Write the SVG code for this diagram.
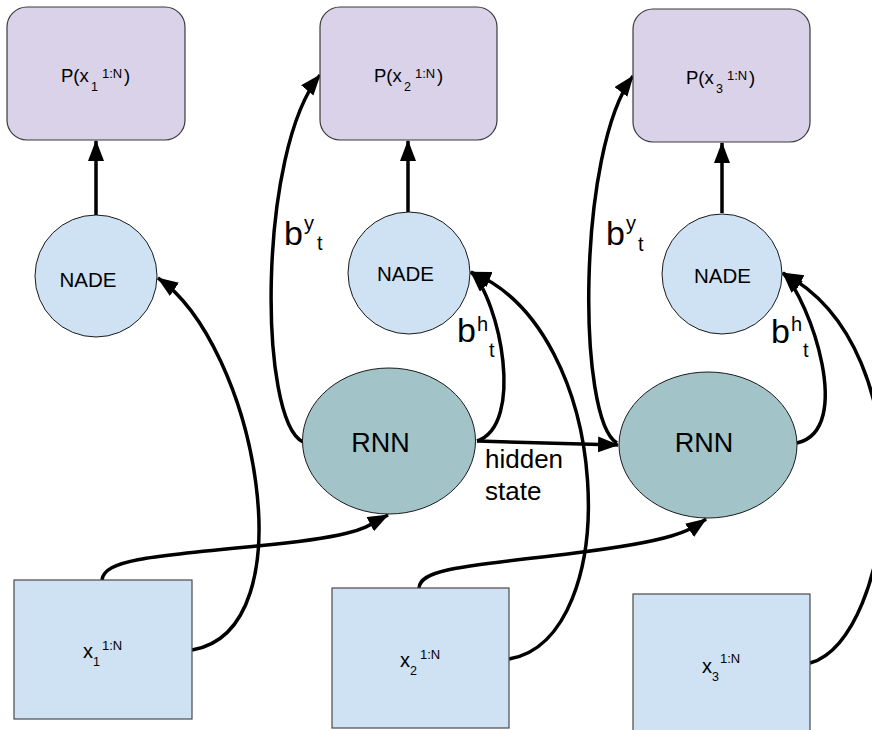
<svg xmlns="http://www.w3.org/2000/svg" width="872" height="730" viewBox="0 0 872 730">
  <style>
    .prob { fill: #d9d2e9; stroke: #3a3a3a; stroke-width: 1.2; }
    .input { fill: #cfe2f3; stroke: #4a4a4a; stroke-width: 1.2; }
    .nade { fill: #cfe2f3; stroke: #1a1a1a; stroke-width: 1; }
    .rnn { fill: #a2c4c9; stroke: #1a1a1a; stroke-width: 1; }
    text { font-family: "Liberation Sans", Arial, sans-serif; fill: #000; }
    .edge { fill: none; stroke: #000; stroke-width: 3.5; }
    .arrow { marker-end: url(#head); }
  </style>
  <defs>
    <marker id="head" markerUnits="userSpaceOnUse" markerWidth="24" markerHeight="18" refX="20" refY="8" orient="auto">
      <path d="M0,0 L21,8 L0,16 z" fill="#000"/>
    </marker>
  </defs>

  <rect width="872" height="730" fill="#fff"/>

  <!-- connectors -->
  <g id="connectors">
    <!-- NADE outputs to distributions -->
    <path class="edge arrow" d="M96,215 L96,141"/>
    <path class="edge arrow" d="M408,212 L408,141"/>
    <path class="edge arrow" d="M722,213 L722,143"/>
    <!-- inputs into NADE -->
    <path class="edge arrow" d="M192,650 C 310,630 255,345 158,278"/>
    <path class="edge arrow" d="M509,659 C 625,640 615,330 471,272"/>
    <path class="edge arrow" d="M810,663 C 895,640 930,350 783,273"/>
    <!-- inputs into RNN -->
    <path class="edge arrow" d="M102,580 C 104,560 150,556 257,546 S 365,527 388,515"/>
    <path class="edge arrow" d="M419,588 C 420,568 470,566 575,553 S 690,530 706,519"/>
    <!-- b^y_t : RNN to distribution -->
    <path class="edge arrow" d="M303,442 C 258,420 258,150 320,75"/>
    <path class="edge arrow" d="M617,443 C 577,420 577,150 633,76"/>
    <!-- b^h_t : RNN to NADE -->
    <path class="edge arrow" d="M477,441 C 525,425 500,300 471,272"/>
    <path class="edge arrow" d="M797,443 C 855,430 810,300 783,273"/>
    <!-- hidden state -->
    <path class="edge arrow" d="M477,441 L618,445"/>
  </g>

  <!-- distributions -->
  <g id="p1">
    <rect class="prob" x="7" y="7" width="178" height="133" rx="20"/>
    <text font-size="18.5" x="61" y="82">P(x</text>
    <text font-size="12.5" x="91" y="91">1</text>
    <text font-size="13" x="102" y="78">1:N</text>
    <text font-size="18.5" x="124" y="82">)</text>
  </g>
  <g id="p2">
    <rect class="prob" x="320" y="7" width="177" height="133" rx="20"/>
    <text font-size="18.5" x="374" y="82">P(x</text>
    <text font-size="12.5" x="404" y="91">2</text>
    <text font-size="13" x="415" y="78">1:N</text>
    <text font-size="18.5" x="437" y="82">)</text>
  </g>
  <g id="p3">
    <rect class="prob" x="633" y="9" width="177" height="133" rx="20"/>
    <text font-size="18.5" x="686" y="84">P(x</text>
    <text font-size="12.5" x="716" y="93">3</text>
    <text font-size="13" x="727" y="80">1:N</text>
    <text font-size="18.5" x="749" y="84">)</text>
  </g>

  <!-- NADE nodes -->
  <g id="nade1">
    <circle class="nade" cx="96" cy="276" r="61"/>
    <text font-size="20.5" x="88" y="287" text-anchor="middle">NADE</text>
  </g>
  <g id="nade2">
    <circle class="nade" cx="409" cy="273" r="61"/>
    <text font-size="20.5" x="405.5" y="281" text-anchor="middle">NADE</text>
  </g>
  <g id="nade3">
    <circle class="nade" cx="722" cy="274" r="60"/>
    <text font-size="20.5" x="722.5" y="283" text-anchor="middle">NADE</text>
  </g>

  <!-- RNN nodes -->
  <g id="rnn1">
    <ellipse class="rnn" cx="389" cy="441" rx="86.5" ry="73"/>
    <text font-size="27" x="380.5" y="452" text-anchor="middle">RNN</text>
  </g>
  <g id="rnn2">
    <ellipse class="rnn" cx="708" cy="445" rx="89" ry="73"/>
    <text font-size="27" x="704" y="452" text-anchor="middle">RNN</text>
  </g>

  <!-- inputs -->
  <g id="x1">
    <rect class="input" x="14" y="580" width="178" height="139"/>
    <text font-size="20" x="83" y="658">x</text>
    <text font-size="12.5" x="93" y="666">1</text>
    <text font-size="13" x="102" y="650">1:N</text>
  </g>
  <g id="x2">
    <rect class="input" x="332" y="588" width="177" height="140"/>
    <text font-size="20" x="400" y="667">x</text>
    <text font-size="12.5" x="410" y="675">2</text>
    <text font-size="13" x="420" y="659">1:N</text>
  </g>
  <g id="x3">
    <rect class="input" x="633" y="594" width="177" height="145"/>
    <text font-size="20" x="702" y="673">x</text>
    <text font-size="12.5" x="712" y="681">3</text>
    <text font-size="13" x="720" y="663">1:N</text>
  </g>

  <!-- edge labels -->
  <g id="labels">
    <text font-size="34" x="284" y="245">b</text>
    <text font-size="20" x="304" y="230">y</text>
    <text font-size="20" x="317" y="250">t</text>

    <text font-size="34" x="606" y="245">b</text>
    <text font-size="20" x="626" y="230">y</text>
    <text font-size="20" x="638" y="251">t</text>

    <text font-size="34" x="457" y="342">b</text>
    <text font-size="20" x="477" y="331">h</text>
    <text font-size="20" x="489" y="357">t</text>

    <text font-size="34" x="771" y="343">b</text>
    <text font-size="20" x="791" y="331">h</text>
    <text font-size="20" x="803" y="357">t</text>

    <text font-size="26" x="485" y="468">hidden</text>
    <text font-size="26" x="485" y="500">state</text>
  </g>
</svg>
